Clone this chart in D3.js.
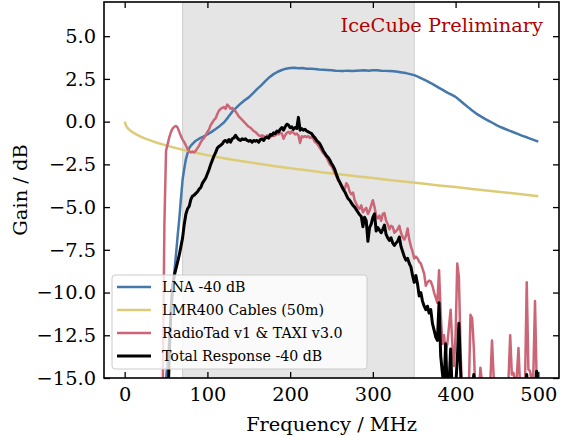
<!DOCTYPE html>
<html>
<head>
<meta charset="utf-8">
<script src="https://cdn.jsdelivr.net/npm/d3@7"></script>
<style>
  html, body { margin: 0; padding: 0; background: #fff; }
  svg { display: block; }
  text { font-family: "DejaVu Serif", serif; }
</style>
</head>
<body>
<svg id="chart" width="561" height="436"></svg>
<script>
// ---------------- DATA ----------------
const xTicks = [0, 100, 200, 300, 400, 500];
const yTicks = [-15, -12.5, -10, -7.5, -5, -2.5, 0, 2.5, 5];
const bandRange = [70, 350];

const seriesNames = ["LNA -40 dB", "LMR400 Cables (50m)", "RadioTad v1 & TAXI v3.0", "Total Response -40 dB"];
const seriesColors = ["#4477AA", "#DDCC77", "#CC6677", "#000000"];

// LNA -40 dB
const lnaFreq = [40, 45, 50, 52, 54, 56, 58, 60, 62, 64, 66, 68, 70, 72, 74, 76, 78, 80,
  85, 90, 95, 100, 105, 110, 115, 120, 125, 130, 135, 140, 145, 150, 155, 160, 165, 170,
  175, 180, 185, 190, 195, 200, 205, 210, 215, 220, 225, 230, 235, 240, 245, 250, 255, 260,
  265, 270, 275, 280, 285, 290, 295, 300, 305, 310, 315, 320, 325, 330, 335, 340, 345, 350,
  355, 360, 365, 370, 375, 380, 385, 390, 395, 400, 405, 410, 415, 420, 425, 430, 435, 440,
  445, 450, 455, 460, 465, 470, 475, 480, 485, 490, 495, 500];
const lnaGain = [-25, -20, -15.1, -13.9, -12.6, -11.2, -9.9, -8.8, -7.8, -6.7, -5.7, -4.5, -3.4, -2.75, -2.2, -1.85, -1.55, -1.4,
  -1.15, -1.0, -0.88, -0.75, -0.6, -0.43, -0.25, -0.05, 0.25, 0.58, 0.82, 1.05, 1.25, 1.42, 1.65, 1.9, 2.12, 2.37,
  2.6, 2.78, 2.92, 3.02, 3.1, 3.14, 3.15, 3.13, 3.14, 3.1, 3.09, 3.08, 3.05, 3.04, 3.02, 3.0, 2.98, 2.97,
  2.97, 2.98, 2.96, 2.98, 2.99, 3.0, 2.98, 3.0, 3.0, 2.98, 2.97, 2.96, 2.95, 2.92, 2.88, 2.84, 2.78, 2.72,
  2.62, 2.5, 2.38, 2.26, 2.12, 1.98, 1.84, 1.7, 1.58, 1.45, 1.25, 1.05, 0.85, 0.65, 0.47, 0.32, 0.18, 0.05,
  -0.08, -0.22, -0.33, -0.43, -0.53, -0.62, -0.72, -0.82, -0.9, -0.99, -1.08, -1.17];

// LMR400 Cables (50m)
const cableFreq = [0, 1, 2, 4, 7, 10, 15, 20, 25, 30, 40, 50, 60, 70, 80, 90, 100, 120, 140, 160,
  180, 200, 220, 240, 260, 280, 300, 320, 340, 360, 380, 400, 420, 440, 460, 480, 500];
const cableGain = [0, -0.15, -0.27, -0.4, -0.53, -0.63, -0.77, -0.89, -0.99, -1.08, -1.25, -1.39, -1.52, -1.64, -1.75, -1.86, -1.96, -2.14, -2.3, -2.45,
  -2.6, -2.73, -2.85, -2.97, -3.08, -3.19, -3.3, -3.41, -3.52, -3.62, -3.73, -3.83, -3.94, -4.04, -4.14, -4.25, -4.37];

// Frequency grid (MHz) shared by the two measured (noisy) curves: 40 .. 500 in 2 MHz steps
const measFreq = d3.range(40, 501, 2);

// RadioTad v1 & TAXI v3.0
const boardGain = [
  -20, -20, -20, -16, -6, -1.7, -1.3, -0.9, -0.6, -0.4,            // 40
  -0.3, -0.25, -0.35, -0.6, -0.85, -1.05, -1.2, -1.4, -1.6, -1.75,   // 60
  -1.8, -1.75, -1.8, -1.7, -1.55, -1.4, -1.2, -1.05, -0.95, -0.8,    // 80
  -0.6, -0.45, -0.2, -0.05, 0.1, 0.2, 0.45, 0.65, 0.75, 0.8,         // 100
  0.85, 0.75, 1.0, 0.9, 0.75, 0.8, 0.7, 0.6, 0.45, 0.3,              // 120
  0.2, 0.1, 0.0, -0.1, -0.2, -0.3, -0.35, -0.45, -0.55, -0.6,        // 140
  -0.7, -0.8, -0.85, -0.8, -0.85, -0.95, -0.8, -1.0, -0.9, -0.8,     // 160
  -0.85, -0.8, -0.7, -0.75, -0.65, -0.7, -1.0, -0.8, -0.65, -0.6,    // 180
  -0.7, -0.55, -0.65, -0.75, -0.7, -0.8, -1.25, -0.85, -0.9, -0.85,  // 200
  -0.9, -0.85, -0.95, -0.9, -1.0, -1.2, -1.25, -1.4, -1.55, -1.7,    // 220
  -1.85, -1.95, -2.1, -2.3, -2.5, -2.6, -2.8, -3.0, -3.2, -3.45,     // 240
  -3.5, -3.7, -3.85, -3.95, -3.6, -3.75, -4.1, -4.25, -4.15, -4.6,   // 260
  -4.8, -5.0, -5.1, -4.9, -5.3, -5.15, -5.05, -5.4, -5.2, -4.9,      // 280
  -4.6, -5.0, -5.5, -5.65, -5.5, -5.8, -5.4, -5.35, -5.8, -6.0,      // 300
  -6.3, -6.1, -6.15, -6.5, -6.4, -6.3, -6.1, -6.5, -6.75, -6.9,      // 320
  -6.7, -6.25, -6.9, -7.3, -7.6, -8.0, -7.9, -8.0, -8.2, -8.3,       // 340
  -8.6, -8.9, -9.6, -9.4, -9.3, -9.35, -9.6, -10.0, -10.3, -10.6,    // 360
  -8.7, -11.2, -13.0, -12.5, -13.5, -13.0, -12.0, -11.0, -13.0, -14.3, // 380
  -12.5, -8.3, -9.1, -13.4, -16, -15.5, -16, -17, -15.8, -11.3,      // 400
  -11.5, -13.2, -16, -15.5, -16, -14.4, -15.3, -16, -17, -16,        // 420
  -15.6, -15.2, -12.8, -14.9, -16, -17, -16, -15.5, -16, -17,        // 440
  -16, -15.4, -15.0, -12.5, -14.8, -14.7, -15.3, -14.9, -13.25, -15.5, // 460
  -16, -15.4, -15.1, -9.4, -14.5, -14.6, -15.2, -14.7, -10.5, -15.2, // 480
  -15.0                                                              // 500
];

// Total Response -40 dB
const totalGain = [
  -20, -20, -20, -20, -20, -20, -17, -13.5, -11.0, -9.6,             // 40
  -9.0, -8.6, -8.2, -7.8, -7.3, -6.8, -6.0, -5.4, -5.1, -4.95,       // 60
  -4.55, -4.35, -4.3, -4.2, -4.1, -3.95, -3.85, -3.6, -3.45, -3.3,   // 80
  -3.05, -2.8, -2.5, -2.25, -2.0, -1.8, -1.55, -1.45, -1.38, -1.3,   // 100
  -1.15, -1.1, -1.2, -1.05, -1.2, -1.0, -0.95, -0.8, -0.95, -1.05,   // 120
  -1.1, -1.0, -1.05, -1.0, -1.1, -1.15, -1.1, -1.2, -1.1, -1.15,     // 140
  -1.1, -1.2, -1.05, -1.0, -1.1, -0.95, -0.9, -0.95, -0.75, -0.8,    // 160
  -0.65, -0.7, -0.55, -0.6, -0.45, -0.35, -0.5, -0.3, -0.15, -0.2,   // 180
  -0.35, -0.3, -0.45, -0.35, -0.4, 0.25, -0.5, -0.4, -0.5, -0.45,    // 200
  -0.55, -0.6, -0.65, -0.7, -0.85, -0.95, -1.1, -1.2, -1.3, -1.5,    // 220
  -1.7, -1.85, -2.0, -2.1, -2.25, -2.45, -2.6, -2.8, -3.1, -3.35,    // 240
  -3.55, -3.75, -3.95, -4.1, -4.3, -4.5, -4.6, -4.75, -4.9, -5.0,    // 260
  -5.15, -5.3, -5.45, -5.55, -6.15, -5.6, -5.8, -7.0, -6.2, -6.0,    // 280
  -5.6, -5.4, -6.4, -6.2, -6.35, -6.5, -6.3, -6.05, -6.6, -6.8,      // 300
  -6.95, -6.8, -7.1, -7.25, -7.1, -7.0, -6.75, -7.3, -7.6, -7.9,     // 320
  -8.1, -8.0, -8.3, -8.5, -9.0, -9.4, -9.0, -9.5, -10.2, -10.0,      // 340
  -10.5, -10.8, -11.0, -10.8, -11.2, -11.0, -11.8, -12.2, -12.6, -12.8, // 360
  -10.6, -13.7, -14.7, -15.5, -13.0, -16, -15.5, -13.3, -16, -17,    // 380
  -15.5, -14, -11.8, -14.5, -17, -18, -17, -18, -17, -16,            // 400
  -15.8, -14.8, -16, -17, -18, -17, -16.5, -18, -19, -18,            // 420
  -18, -17, -16, -17, -18, -19, -18, -18, -19, -18,                  // 440
  -18, -17, -17.5, -16, -17, -17.5, -18, -17, -16.5, -17.5,          // 460
  -18, -17, -16.5, -14.8, -16.5, -17, -17.5, -16, -15.5, -14.6,      // 480
  -15.5                                                              // 500
];

// ---------------- CHART ----------------
const svg = d3.select("#chart");
const W = 561, H = 436;
const m = { left: 104, right: 2, top: 2, bottom: 58 };
const pw = W - m.left - m.right;  // 455
const ph = H - m.top - m.bottom;  // 376
const FS = "19.4px";

const x = d3.scaleLinear().domain([-25, 525]).range([m.left, m.left + pw]);
const y = d3.scaleLinear().domain([-15, 7]).range([m.top + ph, m.top]);

svg.append("defs").append("clipPath").attr("id", "clip")
  .append("rect").attr("x", m.left).attr("y", m.top).attr("width", pw).attr("height", ph);

// shaded band
svg.append("rect")
  .attr("x", x(bandRange[0])).attr("y", m.top)
  .attr("width", x(bandRange[1]) - x(bandRange[0])).attr("height", ph)
  .attr("fill", "#e5e5e5");
svg.append("g").selectAll("line").data(bandRange).join("line")
  .attr("x1", d => x(d)).attr("x2", d => x(d))
  .attr("y1", m.top).attr("y2", m.top + ph)
  .attr("stroke", "#cfcfcf").attr("stroke-width", 1);

const line = d3.line().x(d => x(d[0])).y(d => y(d[1]));
const series = [
  { data: d3.zip(lnaFreq, lnaGain), w: 2.5 },
  { data: d3.zip(cableFreq, cableGain), w: 2.5 },
  { data: d3.zip(measFreq, boardGain), w: 2.5 },
  { data: d3.zip(measFreq, totalGain), w: 3.0 }
];
const plot = svg.append("g").attr("clip-path", "url(#clip)");
series.forEach((s, i) => {
  plot.append("path").datum(s.data)
    .attr("d", line)
    .attr("fill", "none")
    .attr("stroke", seriesColors[i])
    .attr("stroke-width", s.w)
    .attr("stroke-linejoin", "round");
});

// axes (ticks inward on all four sides)
const tickLen = 6;
const fmtY = d3.format(".1f");
const axB = svg.append("g").attr("transform", `translate(0,${m.top + ph})`)
  .call(d3.axisBottom(x).tickValues(xTicks).tickSizeInner(-tickLen).tickSizeOuter(0).tickPadding(9).tickFormat(d3.format("d")));
const axT = svg.append("g").attr("transform", `translate(0,${m.top})`)
  .call(d3.axisTop(x).tickValues(xTicks).tickSizeInner(-tickLen).tickSizeOuter(0).tickFormat(""));
const axL = svg.append("g").attr("transform", `translate(${m.left},0)`)
  .call(d3.axisLeft(y).tickValues(yTicks).tickSizeInner(-tickLen).tickSizeOuter(0).tickPadding(8).tickFormat(fmtY));
const axR = svg.append("g").attr("transform", `translate(${m.left + pw},0)`)
  .call(d3.axisRight(y).tickValues(yTicks).tickSizeInner(-tickLen).tickSizeOuter(0).tickFormat(""));

[axB, axT, axL, axR].forEach(a => {
  a.select(".domain").remove();
  a.selectAll(".tick line").attr("stroke", "#000").attr("stroke-width", 1.3);
  a.selectAll(".tick text").attr("fill", "#000").style("font-size", FS).style("font-family", "DejaVu Serif");
});
axB.selectAll(".tick text").attr("dy", "0.71em");

// frame
svg.append("rect").attr("x", m.left).attr("y", m.top).attr("width", pw).attr("height", ph)
  .attr("fill", "none").attr("stroke", "#000").attr("stroke-width", 1.6);

// axis labels
svg.append("text").attr("x", m.left + pw / 2).attr("y", 431)
  .attr("text-anchor", "middle").style("font-size", FS).text("Frequency / MHz");
svg.append("text").attr("transform", `translate(27,${m.top + ph / 2}) rotate(-90)`)
  .attr("text-anchor", "middle").style("font-size", FS).text("Gain / dB");

// watermark title
svg.append("text").attr("x", 543).attr("y", 32).attr("text-anchor", "end")
  .attr("fill", "#b20000").style("font-size", FS).text("IceCube Preliminary");

// legend
const lg = svg.append("g").attr("transform", "translate(112,275)");
lg.append("rect").attr("width", 255).attr("height", 94).attr("rx", 3)
  .attr("fill", "#fff").attr("fill-opacity", 0.8).attr("stroke", "#cccccc").attr("stroke-width", 1);
seriesNames.forEach((name, i) => {
  const yy = 12 + i * 23;
  lg.append("line").attr("x1", 5).attr("x2", 39).attr("y1", yy).attr("y2", yy)
    .attr("stroke", seriesColors[i]).attr("stroke-width", i === 3 ? 3.0 : 2.5);
  lg.append("text").attr("x", 50).attr("y", yy).attr("dy", "0.35em")
    .style("font-size", "14.2px").text(name);
});
</script>
</body>
</html>
